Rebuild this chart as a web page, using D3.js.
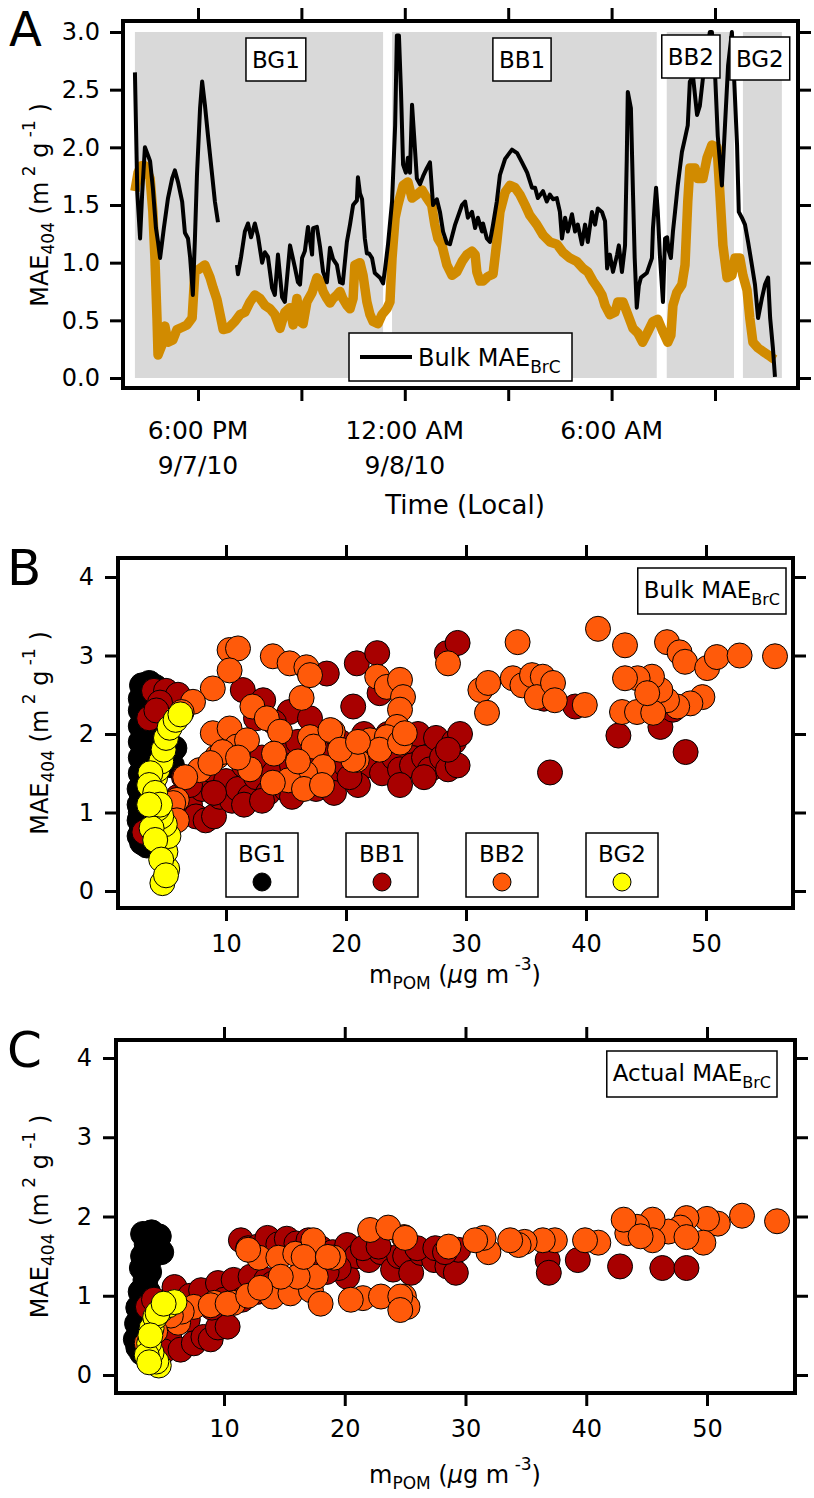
<!DOCTYPE html>
<html><head><meta charset="utf-8">
<script src="https://cdn.jsdelivr.net/npm/d3@7"></script>
<style>
body{margin:0;background:#fff}
svg{display:block}
text{font-family:"DejaVu Sans",sans-serif;fill:#000}
</style>
</head><body>
<svg id="chart" width="814" height="1498"></svg>
<script>
// ---------------- DATA ----------------
// Panel A: time in hours since 9/7/10 00:00, MAE404 (m2 g-1)
const bulkSeries = [[16.17,2.65],[16.24,1.6],[16.32,1.21],[16.38,1.6],[16.46,2.0],[16.55,1.93],[16.61,1.88],[16.69,1.65],[16.78,1.3],[16.84,1.18],[16.90,1.04],[17.01,1.3],[17.13,1.56],[17.25,1.73],[17.33,1.80],[17.42,1.7],[17.54,1.53],[17.62,1.26],[17.71,1.21],[17.77,1.05],[17.83,0.81],[17.85,0.72],[17.91,1.2],[17.97,1.76],[18.06,2.34],[18.12,2.57],[18.20,2.37],[18.29,2.1],[18.41,1.76],[18.49,1.53],[18.58,1.35],[18.85,null],
[19.13,0.98],[19.16,0.90],[19.25,1.05],[19.36,1.27],[19.45,1.34],[19.54,1.22],[19.65,1.34],[19.74,1.23],[19.86,1.0],[19.94,1.09],[20.03,1.05],[20.15,0.78],[20.23,0.72],[20.32,1.07],[20.44,0.7],[20.52,0.66],[20.67,1.15],[20.81,0.96],[20.90,0.83],[20.96,0.81],[21.02,1.04],[21.10,1.1],[21.19,1.31],[21.31,1.07],[21.34,1.3],[21.45,1.31],[21.54,1.14],[21.63,0.92],[21.74,0.83],[21.83,1.13],[21.92,1.03],[22.03,0.98],[22.12,0.83],[22.20,0.82],[22.32,1.18],[22.41,1.33],[22.50,1.5],[22.61,1.54],[22.64,1.74],[22.70,1.6],[22.76,1.55],[22.84,1.21],[22.90,1.08],[22.96,1.08],[23.05,1.04],[23.13,0.91],[23.28,0.87],[23.37,0.82],[23.42,0.93],[23.51,1.15],[23.63,1.53],[23.72,2.19],[23.77,2.97],[23.83,2.97],[23.89,2.48],[23.95,1.85],[24.03,1.78],[24.09,1.91],[24.15,1.78],[24.21,2.37],[24.27,2.1],[24.35,1.73],[24.44,1.68],[24.53,1.75],[24.64,1.82],[24.73,1.87],[24.82,1.5],[24.93,1.55],[25.02,1.44],[25.11,1.27],[25.22,1.17],[25.31,1.16],[25.46,1.33],[25.66,1.5],[25.75,1.53],[25.83,1.39],[25.95,1.44],[26.04,1.30],[26.12,1.39],[26.24,1.27],[26.27,1.34],[26.38,1.21],[26.47,1.18],[26.56,1.33],[26.67,1.53],[26.76,1.76],[26.91,1.9],[27.11,1.98],[27.26,1.95],[27.40,1.87],[27.55,1.78],[27.69,1.65],[27.78,1.65],[27.86,1.56],[28.01,1.62],[28.12,1.53],[28.21,1.59],[28.30,1.55],[28.41,1.56],[28.50,1.44],[28.56,1.21],[28.65,1.39],[28.73,1.27],[28.85,1.42],[28.94,1.27],[29.02,1.33],[29.14,1.16],[29.23,1.33],[29.31,1.18],[29.43,1.44],[29.52,1.33],[29.60,1.47],[29.72,1.44],[29.81,1.36],[29.87,0.95],[29.95,1.07],[30.04,0.92],[30.16,1.07],[30.21,1.15],[30.30,0.92],[30.39,1.15],[30.44,1.9],[30.47,2.48],[30.56,2.34],[30.62,1.61],[30.67,1.04],[30.73,0.61],[30.79,0.8],[30.85,0.87],[31.02,0.91],[31.17,1.04],[31.20,1.3],[31.29,1.65],[31.34,1.44],[31.40,1.07],[31.49,0.66],[31.55,1.21],[31.61,1.22],[31.66,1.1],[31.72,1.04],[31.78,1.27],[31.84,1.44],[31.92,1.67],[32.04,1.96],[32.13,2.08],[32.21,2.19],[32.27,2.57],[32.36,2.62],[32.48,2.28],[32.56,2.36],[32.65,2.6],[32.77,2.85],[32.85,3.0],[32.91,3.0],[33.00,2.65],[33.08,2.1],[33.20,1.67],[33.29,2.19],[33.38,2.71],[33.49,3.0],[33.55,2.63],[33.64,2.02],[33.69,1.44],[33.78,1.39],[33.87,1.33],[33.96,1.18],[34.07,0.98],[34.16,0.81],[34.25,0.52],[34.36,0.69],[34.45,0.81],[34.54,0.87],[34.60,0.52],[34.68,0.26],[34.74,0.01]];

const actualSeries = [[16.17,1.62],[16.26,1.78],[16.35,1.84],[16.46,1.84],[16.61,1.73],[16.69,1.44],[16.75,1.04],[16.81,0.52],[16.84,0.2],[16.96,0.29],[17.04,0.45],[17.13,0.31],[17.27,0.33],[17.39,0.42],[17.54,0.44],[17.68,0.46],[17.83,0.52],[17.91,0.92],[18.06,0.95],[18.20,0.98],[18.35,0.87],[18.44,0.78],[18.55,0.68],[18.64,0.55],[18.73,0.42],[18.87,0.43],[19.07,0.49],[19.22,0.55],[19.36,0.57],[19.51,0.66],[19.65,0.72],[19.80,0.69],[19.94,0.63],[20.09,0.6],[20.23,0.55],[20.38,0.43],[20.52,0.57],[20.67,0.61],[20.76,0.46],[20.87,0.69],[20.96,0.49],[21.05,0.47],[21.16,0.66],[21.31,0.74],[21.45,0.87],[21.54,0.84],[21.63,0.75],[21.74,0.69],[21.83,0.65],[21.92,0.69],[22.03,0.72],[22.12,0.75],[22.20,0.69],[22.32,0.63],[22.41,0.6],[22.50,0.69],[22.55,0.98],[22.70,1.0],[22.79,0.89],[22.90,0.66],[22.99,0.55],[23.08,0.49],[23.22,0.47],[23.34,0.55],[23.48,0.6],[23.57,0.66],[23.63,1.04],[23.72,1.39],[23.80,1.5],[23.95,1.67],[24.09,1.7],[24.21,1.56],[24.35,1.59],[24.50,1.63],[24.64,1.56],[24.78,1.5],[24.87,1.33],[24.96,1.21],[25.08,1.15],[25.22,0.98],[25.37,0.89],[25.51,0.92],[25.66,1.01],[25.80,1.07],[25.95,1.1],[26.04,1.07],[26.09,0.92],[26.18,0.84],[26.27,0.84],[26.41,0.88],[26.56,0.9],[26.67,1.18],[26.76,1.44],[26.91,1.61],[27.05,1.67],[27.20,1.65],[27.34,1.59],[27.49,1.5],[27.63,1.41],[27.83,1.33],[28.01,1.24],[28.21,1.18],[28.41,1.16],[28.59,1.09],[28.79,1.04],[28.99,1.01],[29.17,0.95],[29.31,0.92],[29.46,0.84],[29.60,0.78],[29.72,0.72],[29.81,0.63],[29.95,0.55],[30.10,0.57],[30.18,0.66],[30.33,0.66],[30.47,0.55],[30.62,0.43],[30.76,0.39],[30.90,0.31],[31.05,0.4],[31.20,0.49],[31.34,0.51],[31.49,0.4],[31.63,0.31],[31.72,0.37],[31.78,0.63],[31.89,0.74],[32.04,0.81],[32.13,0.98],[32.21,1.53],[32.27,1.82],[32.42,1.82],[32.50,1.73],[32.65,1.73],[32.77,1.91],[32.91,2.02],[33.06,2.0],[33.14,1.61],[33.23,1.15],[33.35,0.87],[33.49,0.89],[33.58,1.04],[33.72,1.04],[33.81,0.89],[33.93,0.76],[34.01,0.52],[34.10,0.31],[34.25,0.26],[34.39,0.23],[34.54,0.2],[34.68,0.17],[34.74,0.16]];

const periodNames = ["BG1","BB1","BB2","BG2"];
const periodSpans = [[16.17,23.37],[23.63,31.31],[31.60,33.55],[33.81,34.94]];
const periodLabelT = [20.26,27.40,32.30,34.30];
const timeTicks = [18,21,24,27,30,33];
const timeLabels = {18:["6:00 PM","9/7/10"],24:["12:00 AM","9/8/10"],30:["6:00 AM",""]};
const maeTicksA = [0,0.5,1.0,1.5,2.0,2.5,3.0];

// Panels B & C: [mPOM (ug m-3), MAE404]
const bg1Bulk = [[3.0,2.62],[3.6,2.65],[4.1,2.6],[2.9,2.45],[3.5,2.5],[2.9,2.3],[3.3,2.25],[2.9,2.1],[3.4,2.05],[2.9,1.9],[3.2,1.85],[2.9,1.7],[3.3,1.65],[2.9,1.5],[3.1,1.4],[2.8,1.3],[3.0,1.2],[2.8,1.1],[3.1,1.0],[2.8,0.9],[3.0,0.8],[2.8,0.7],[3.0,0.62],[3.4,0.58],[5.7,1.82],[5.5,1.6],[2.9,1.0],[3.6,0.7]];
const bb1Bulk = [[4.0,2.55],[5.0,2.55],[6.0,2.5],[4.5,2.4],[3.6,2.2],[4.2,2.3],[3.2,0.75],[6.0,1.2],[6.5,1.45],[7.0,1.1],[7.5,0.95],[8.3,0.9],[9.0,0.95],[8.0,1.3],[8.5,1.55],[9.5,1.2],[10.0,1.4],[10.5,1.15],[11.0,1.3],[11.5,1.6],[12.0,1.2],[12.5,1.45],[13.0,1.7],[13.5,1.25],[14.0,1.5],[14.5,1.8],[15.0,1.3],[15.5,1.6],[16.0,1.9],[16.5,1.4],[17.0,1.7],[17.5,2.0],[18.0,1.5],[18.5,1.8],[19.0,1.45],[19.5,1.9],[20.0,1.6],[20.5,1.45],[21.0,1.75],[21.5,2.0],[22.0,1.6],[22.5,1.85],[23.0,1.5],[23.5,2.0],[24.0,1.7],[24.5,1.55],[25.0,1.9],[25.5,1.6],[26.0,2.0],[26.5,1.7],[27.0,1.55],[27.5,1.95],[28.0,1.7],[28.5,1.55],[29.0,1.9],[29.3,1.6],[29.5,2.0],[7.0,1.35],[9.0,1.25],[11.5,1.1],[13.0,1.15],[15.5,1.2],[17.5,1.3],[19.0,1.25],[21.0,1.35],[24.5,1.35],[26.5,1.45],[28.5,1.8],[11.4,2.56],[13.1,2.43],[15.3,2.28],[18.4,2.77],[20.3,1.45],[12.5,2.2],[14.0,2.15],[17.0,2.2],[20.6,2.35],[22.8,2.52],[20.9,2.9],[22.6,3.03],[28.4,3.03],[29.3,3.16],[37.0,1.51],[42.7,1.98],[46.2,2.09],[48.3,1.77],[39.1,2.35],[47.25,2.31],[36.5,2.45]];
const bb2Bulk = [[10.3,3.07],[11.0,3.09],[10.3,2.81],[8.9,2.58],[7.25,2.41],[6.3,2.28],[13.9,2.99],[15.3,2.9],[16.7,2.85],[16.3,2.46],[12.2,2.35],[13.4,2.2],[14.5,2.03],[8.9,2.01],[10.3,2.07],[10.9,1.84],[9.25,1.71],[7.8,1.54],[6.6,1.45],[17.0,1.96],[17.3,1.84],[18.9,2.03],[18.1,1.58],[16.6,1.5],[15.2,1.41],[13.9,1.38],[20.9,1.67],[22.0,1.92],[22.6,2.73],[23.4,2.6],[24.5,2.69],[24.75,2.47],[24.5,2.31],[24.25,2.09],[23.4,1.96],[22.8,1.8],[24.5,1.89],[24.9,2.01],[5.9,1.16],[5.6,1.12],[5.9,0.9],[11.75,1.92],[9.7,1.77],[8.7,1.63],[20.6,1.67],[18.7,2.05],[17.0,2.75],[28.5,2.9],[31.2,2.56],[31.85,2.65],[31.75,2.27],[33.9,2.71],[34.7,2.62],[35.5,2.75],[36.4,2.73],[35.9,2.47],[37.25,2.65],[37.4,2.43],[39.9,2.37],[34.3,3.17],[41.0,3.34],[43.25,3.13],[46.75,3.17],[47.8,3.04],[48.25,2.92],[50.1,2.84],[50.9,2.98],[52.8,3.0],[55.75,2.99],[49.7,2.47],[48.7,2.39],[47.6,2.35],[46.75,2.43],[46.2,2.56],[45.5,2.73],[44.3,2.71],[43.25,2.71],[43.0,2.28],[44.25,2.28],[45.6,2.27],[45.1,2.52],[12.0,1.55],[11.0,1.7],[14.0,1.75],[19.5,1.8],[21.0,1.9],[16.0,1.65],[16.5,1.3],[18.0,1.35]];
const bg2Bulk = [[4.7,0.1],[5.1,0.28],[4.95,0.5],[5.2,0.7],[4.9,0.85],[4.6,0.95],[4.3,1.05],[4.0,1.2],[3.9,1.35],[4.1,1.45],[4.3,1.55],[4.6,1.65],[4.8,1.8],[5.0,1.95],[5.3,2.08],[5.8,2.18],[6.2,2.25],[3.7,1.5],[3.6,1.35],[4.1,1.25],[3.8,0.8],[4.1,0.65],[4.6,0.4],[4.5,1.1],[3.6,1.1],[5.0,0.2]];

const bg1Actual = [[3.3,1.78],[4.0,1.8],[4.6,1.75],[3.6,1.65],[4.4,1.6],[4.8,1.55],[3.3,1.5],[3.8,1.45],[3.2,1.35],[3.5,1.2],[3.1,1.05],[3.4,0.95],[2.9,0.85],[3.2,0.75],[2.8,0.65],[3.0,0.55],[2.7,0.45],[2.9,0.35],[3.2,0.28],[3.6,0.4],[3.8,1.3],[3.7,1.05]];
const bb1Actual = [[3.7,0.86],[4.2,0.95],[5.0,0.6],[5.5,0.45],[5.0,0.3],[6.4,0.32],[7.0,0.7],[7.5,0.4],[8.3,0.48],[8.9,0.45],[9.5,0.6],[10.3,0.61],[5.9,1.11],[6.5,0.9],[7.2,1.0],[8.1,1.07],[9.0,0.85],[9.5,1.16],[10.0,0.95],[10.8,1.2],[11.5,0.95],[12.2,1.24],[12.8,1.05],[13.5,1.2],[14.0,1.15],[11.4,1.7],[12.0,1.6],[12.8,1.62],[13.6,1.73],[14.5,1.65],[15.2,1.72],[16.0,1.66],[17.0,1.7],[18.0,1.6],[19.0,1.55],[20.2,1.64],[20.2,1.24],[21.0,1.5],[22.0,1.45],[23.0,1.55],[24.0,1.33],[24.5,1.5],[25.0,1.5],[25.5,1.29],[26.3,1.54],[27.4,1.45],[28.5,1.37],[29.2,1.29],[29.4,1.58],[21.5,1.6],[22.8,1.62],[26.0,1.6],[27.5,1.6],[28.3,1.55],[19.5,1.35],[36.8,1.45],[36.9,1.29],[39.3,1.45],[42.8,1.37],[46.3,1.35],[48.3,1.35],[15.5,1.2],[17.0,1.35],[18.5,1.3]];
const bb2Actual = [[55.8,1.94],[52.9,2.01],[50.9,1.91],[50.0,1.97],[48.3,1.98],[47.8,1.86],[46.8,1.81],[45.5,1.96],[44.2,1.87],[43.4,1.79],[43.1,1.96],[49.7,1.67],[48.3,1.74],[45.5,1.7],[44.5,1.75],[41.0,1.67],[39.9,1.7],[37.4,1.7],[36.4,1.7],[34.9,1.68],[34.4,1.64],[33.7,1.7],[31.9,1.55],[31.5,1.73],[30.8,1.7],[28.6,1.62],[24.9,1.74],[24.9,0.99],[25.2,0.86],[19.1,1.48],[22.1,1.83],[23.6,1.86],[25.0,1.73],[21.5,0.97],[23.0,0.99],[24.6,0.99],[24.6,0.82],[14.0,0.99],[15.5,1.03],[17.2,1.07],[18.0,0.9],[17.6,1.24],[12.9,1.48],[14.5,1.48],[15.9,1.53],[17.4,1.7],[12.0,1.58],[7.5,0.86],[9.2,0.91],[10.8,0.91],[8.9,0.88],[10.3,0.9],[16.1,1.24],[14.7,1.24],[16.6,1.49],[18.6,1.49],[20.5,0.95],[6.2,0.66],[6.5,0.8],[5.6,0.75],[12.0,1.0],[13.0,1.1],[3.6,0.4],[4.3,0.55]];
const bg2Actual = [[4.6,0.12],[4.4,0.17],[4.0,0.28],[3.8,0.4],[4.0,0.59],[4.3,0.73],[4.8,0.82],[5.4,0.88],[5.9,0.92],[3.6,0.25],[4.5,0.78],[3.9,0.5],[5.0,0.9],[3.8,0.16]];

const groupNames = ["BG1","BB1","BB2","BG2"];
const groupColors = ["#000000","#a80000","#ff5a0a","#ffff00"];
const legendMX = [13,23,33,43];
const mTicks = [10,20,30,40,50];
const maeTicksBC = [0,1,2,3,4];

// ---------------- DRAW ----------------
const svg = d3.select("#chart");
const TICKFS = 24;

function styleAxis(g, fs){
  g.select(".domain").remove();
  g.selectAll(".tick line").attr("stroke","#000").attr("stroke-width",3);
  g.selectAll(".tick text").attr("font-size",fs).attr("font-family","DejaVu Sans").attr("fill","#000");
}
function frame(x0,y0,x1,y1){
  svg.append("rect").attr("x",x0).attr("y",y0).attr("width",x1-x0).attr("height",y1-y0)
    .attr("fill","none").attr("stroke","#000").attr("stroke-width",4);
}
function yTitle(cx,cy){
  const t = svg.append("text").attr("transform",`translate(${cx},${cy}) rotate(-90)`)
    .attr("text-anchor","middle").attr("font-size",24);
  t.append("tspan").text("MAE");
  t.append("tspan").attr("font-size",17).attr("dy",6).text("404");
  t.append("tspan").attr("dy",-6).text(" (m");
  t.append("tspan").attr("font-size",17).attr("dy",-13).text(" 2");
  t.append("tspan").attr("dy",13).text(" g");
  t.append("tspan").attr("font-size",17).attr("dy",-13).text(" -1");
  t.append("tspan").attr("dy",13).text(" )");
}
function mTitle(cx,y){
  const t = svg.append("text").attr("x",cx).attr("y",y).attr("text-anchor","middle").attr("font-size",24);
  t.append("tspan").text("m");
  t.append("tspan").attr("font-size",17).attr("dy",6).text("POM");
  t.append("tspan").attr("dy",-6).text(" (");
  t.append("tspan").attr("font-style","italic").text("\u03bc");
  t.append("tspan").text("g m");
  t.append("tspan").attr("font-size",17).attr("dy",-13).text(" -3");
  t.append("tspan").attr("dy",13).text(")");
}
function boxLabel(cx, yTop, main, fs, padX, h){
  const g = svg.append("g");
  const t = g.append("text").attr("font-size",fs).text(main);
  const w = t.node().getComputedTextLength() + 2*padX;
  const x0 = cx - w/2;
  g.insert("rect","text").attr("x",x0).attr("y",yTop).attr("width",w).attr("height",h)
    .attr("fill","#fff").attr("stroke","#000").attr("stroke-width",1.5);
  t.attr("x",x0+padX).attr("y",yTop + h/2 + fs*0.36);
}

// ===== Panel A =====
const A = {l:123,r:798,t:21,b:388};
const xA = d3.scaleLinear().domain([18,33]).range([198,715]);
const yA = d3.scaleLinear().domain([0,3]).range([378,32]);

svg.append("g").selectAll("rect").data(periodSpans).join("rect")
  .attr("x",d=>xA(d[0])).attr("width",d=>xA(d[1])-xA(d[0]))
  .attr("y",yA(3)).attr("height",yA(0)-yA(3)).attr("fill","#d9d9d9");

svg.append("path").datum(actualSeries)
  .attr("d", d3.line().x(d=>xA(d[0])).y(d=>yA(d[1])))
  .attr("fill","none").attr("stroke","#d18b00").attr("stroke-width",9.5).attr("stroke-linejoin","round");
svg.append("path").datum(bulkSeries)
  .attr("d", d3.line().defined(d=>d[1]!==null).x(d=>xA(d[0])).y(d=>yA(d[1])))
  .attr("fill","none").attr("stroke","#000").attr("stroke-width",4).attr("stroke-linejoin","round");

periodNames.forEach((n,i)=>{
  const yt = (n==="BB2")?35:(n==="BG2"?37:38);
  boxLabel(xA(periodLabelT[i]), yt, n, 23, 6, 43);
});

// legend A
const lgA = svg.append("g");
lgA.append("rect").attr("x",349).attr("y",333).attr("width",223).attr("height",48)
  .attr("fill","#fff").attr("stroke","#000").attr("stroke-width",1.5);
lgA.append("line").attr("x1",360).attr("x2",412).attr("y1",357).attr("y2",357).attr("stroke","#000").attr("stroke-width",4);
const lgt = lgA.append("text").attr("x",418).attr("y",366).attr("font-size",24);
lgt.append("tspan").text("Bulk MAE");
lgt.append("tspan").attr("font-size",17).attr("dy",7).text("BrC");

styleAxis(svg.append("g").attr("transform",`translate(${A.l},0)`)
  .call(d3.axisLeft(yA).tickValues(maeTicksA).tickSize(13).tickPadding(10).tickFormat(d3.format(".1f"))),TICKFS);
styleAxis(svg.append("g").attr("transform",`translate(${A.r},0)`)
  .call(d3.axisRight(yA).tickValues(maeTicksA).tickSize(13).tickFormat("")),TICKFS);
styleAxis(svg.append("g").attr("transform",`translate(0,${A.t})`)
  .call(d3.axisTop(xA).tickValues(timeTicks).tickSize(13).tickFormat("")),TICKFS);
styleAxis(svg.append("g").attr("transform",`translate(0,${A.b})`)
  .call(d3.axisBottom(xA).tickValues(timeTicks).tickSize(13).tickFormat("")),TICKFS);
Object.keys(timeLabels).forEach(k=>{
  const [l1,l2] = timeLabels[k];
  svg.append("text").attr("x",xA(+k)).attr("y",439).attr("text-anchor","middle").attr("font-size",25).text(l1);
  if(l2) svg.append("text").attr("x",xA(+k)).attr("y",474).attr("text-anchor","middle").attr("font-size",25).text(l2);
});
svg.append("text").attr("x",465).attr("y",514).attr("text-anchor","middle").attr("font-size",26).text("Time (Local)");
frame(A.l,A.t,A.r,A.b);
yTitle(48,205);
svg.append("text").attr("x",9).attr("y",46).attr("font-family","Liberation Sans").attr("font-size",48).text("A");

// ===== Scatter panels =====
function scatterPanel(P, xs, ys, groups, boxText, boxX, boxY, letter, letterY, titleY, showLegend){
  groups.forEach((pts,gi)=>{
    svg.append("g").selectAll("circle").data(pts).join("circle")
      .attr("cx",d=>xs(d[0])).attr("cy",d=>ys(d[1])).attr("r",12.5)
      .attr("fill",groupColors[gi]).attr("stroke","#000").attr("stroke-width",1);
  });
  styleAxis(svg.append("g").attr("transform",`translate(${P.l},0)`)
    .call(d3.axisLeft(ys).tickValues(maeTicksBC).tickSize(13).tickPadding(11).tickFormat(d3.format("d"))),TICKFS);
  styleAxis(svg.append("g").attr("transform",`translate(${P.r},0)`)
    .call(d3.axisRight(ys).tickValues(maeTicksBC).tickSize(13).tickFormat("")),TICKFS);
  styleAxis(svg.append("g").attr("transform",`translate(0,${P.t})`)
    .call(d3.axisTop(xs).tickValues(mTicks).tickSize(13).tickFormat("")),TICKFS);
  styleAxis(svg.append("g").attr("transform",`translate(0,${P.b})`)
    .call(d3.axisBottom(xs).tickValues(mTicks).tickSize(13).tickPadding(14).tickFormat(d3.format("d"))),TICKFS);
  frame(P.l,P.t,P.r,P.b);
  const g = svg.append("g");
  const t = g.append("text").attr("font-size",23);
  t.append("tspan").text(boxText);
  t.append("tspan").attr("font-size",16).attr("dy",7).text("BrC");
  const w = t.node().getComputedTextLength()+12;
  g.insert("rect","text").attr("x",boxX-w).attr("y",boxY).attr("width",w).attr("height",46)
    .attr("fill","#fff").attr("stroke","#000").attr("stroke-width",1.5);
  t.attr("x",boxX-w+6).attr("y",boxY+30);
  if(showLegend){
    groupNames.forEach((n,i)=>{
      const cx = xs(legendMX[i]);
      svg.append("rect").attr("x",cx-36).attr("y",833).attr("width",72).attr("height",64)
        .attr("fill","#fff").attr("stroke","#000").attr("stroke-width",1.5);
      svg.append("text").attr("x",cx).attr("y",862).attr("text-anchor","middle").attr("font-size",23).text(n);
      svg.append("circle").attr("cx",cx).attr("cy",882).attr("r",9)
        .attr("fill",groupColors[i]).attr("stroke","#000").attr("stroke-width",1);
    });
  }
  mTitle(455,titleY);
  yTitle(48,(P.t+P.b)/2);
  svg.append("text").attr("x",7).attr("y",letterY).attr("font-family","Liberation Sans").attr("font-size",50).text(letter);
}

const B = {l:118,r:793,t:558,b:908};
const xB = d3.scaleLinear().domain([10,50]).range([226,706]);
const yB = d3.scaleLinear().domain([0,4]).range([891,577]);
scatterPanel(B,xB,yB,[bg1Bulk,bb1Bulk,bb2Bulk,bg2Bulk],"Bulk MAE",786,568,"B",585,983,true);

const C = {l:116,r:795,t:1040,b:1393};
const xC = d3.scaleLinear().domain([10,50]).range([224,707]);
const yC = d3.scaleLinear().domain([0,4]).range([1375,1058]);
scatterPanel(C,xC,yC,[bg1Actual,bb1Actual,bb2Actual,bg2Actual],"Actual MAE",777,1051,"C",1067,1483,false);
</script>
</body></html>
